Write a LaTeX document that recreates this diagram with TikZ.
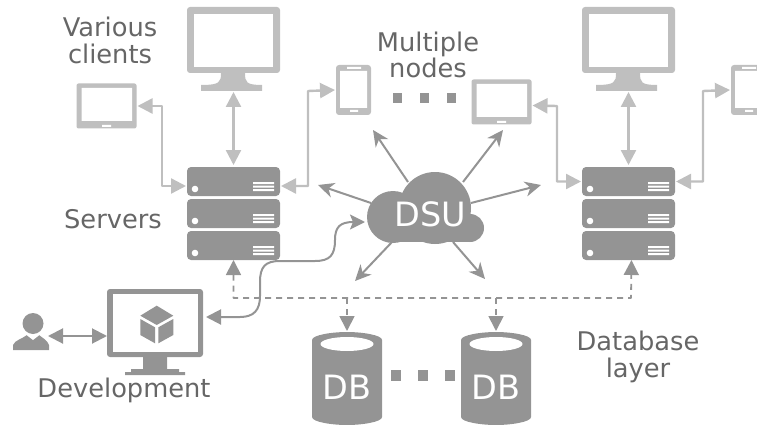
\documentclass[tikz,border=0pt]{standalone}
\usepackage{fontspec}
\setmainfont{DejaVu Sans}
\usetikzlibrary{arrows.meta}
\definecolor{lightgr}{HTML}{BFBFBF}
\definecolor{darkgr}{HTML}{949494}
\definecolor{textgr}{HTML}{666666}
\tikzset{
  box/.style={inner sep=0,outer sep=0,minimum width=#1},
  clientline/.style={draw=lightgr,line width=2.4pt,{Stealth[length=15pt,width=15pt,inset=0pt]}-{Stealth[length=15pt,width=15pt,inset=0pt]}},
  cloudline/.style={draw=darkgr,line width=2pt,-{Stealth[length=16pt,width=15pt,inset=5pt]}},
  devline/.style={draw=darkgr,line width=2pt,{Stealth[length=15pt,width=15pt,inset=0pt]}-{Stealth[length=15pt,width=15pt,inset=3pt]}},
  busline/.style={draw=darkgr,line width=1.8pt,dash pattern=on 6pt off 5pt},
  tiphead/.style={-{Stealth[length=15pt,width=15pt,inset=0pt]}},
  caption/.style={text=textgr,align=center,font=\fontsize{25.7}{26.5}\selectfont},
  inner/.style={text=white,font=\fontsize{33.5}{34}\selectfont}
}
\begin{document}
\begin{tikzpicture}[x=1pt,y=-1pt,line join=round]
\clip (0,0) rectangle (757,425);
% clients and servers
\foreach \i/\dx/\dy in {1/0/0,2/395/-4}{
  \node[box=93,fill=lightgr,rounded corners=3,minimum height=66] (mon\i) at (233.5+\dx,40) {};
  \fill[white] (194+\dx,14) rectangle (273+\dx,67);
  \fill[lightgr] (221+\dx,73) .. controls (221+\dx,82) and (220+\dx,85) .. (201+\dx,85) -- (201+\dx,91) -- (262+\dx,91) -- (262+\dx,85) .. controls (246+\dx,85) and (245+\dx,82) .. (245+\dx,73) -- cycle;
  \node[box=60,fill=lightgr,rounded corners=2,minimum height=45] (tab\i) at (106.5+\dx,106+\dy) {};
  \fill[white] (81.5+\dx,88+\dy) rectangle (132+\dx,121+\dy) (102+\dx,125+\dy) rectangle (111+\dx,127+\dy);
  \node[box=35,fill=lightgr,rounded corners=3,minimum height=50] (tel\i) at (353.5+\dx,90) {};
  \fill[white] (340+\dx,71) rectangle (367+\dx,108) (347+\dx,67) rectangle (361+\dx,69) (350+\dx,110) rectangle (358+\dx,112);
  \foreach \u/\uy in {a/0,b/32,c/64}{
    \node[box=93,fill=darkgr,rounded corners=4,minimum height=29] (srv\i\u) at (233.5+\dx,181.5+\uy) {};
    \fill[white] (195+\dx,189+\uy) circle (3.3);
    \fill[white] (253+\dx,182+\uy) rectangle (274+\dx,184+\uy) (253+\dx,185.5+\uy) rectangle (274+\dx,187.5+\uy) (253+\dx,189+\uy) rectangle (274+\dx,191+\uy);
  }
  \draw[clientline] (mon\i.south |- 0,92) -- (srv\i a.north |- 0,165);
}
\draw[clientline] ([xshift=1pt]tab1.east) -- (162,106) |- ([yshift=-4.5pt,xshift=-1pt]srv1a.west);
\draw[clientline] ([xshift=-1pt]tel1.west) -- (308,91) |- ([yshift=-4.5pt,xshift=1pt]srv1a.east);
\draw[clientline] ([xshift=1pt,yshift=-3.5pt]tab2.east) -- (557,106) |- ([xshift=-1pt]srv2a.west);
\draw[clientline] ([xshift=-1pt]tel2.west) -- (703,91) |- ([xshift=1pt]srv2a.east);
% dots
\foreach \x in {393,420,447} \fill[darkgr] (\x,93) rectangle ++(9,10);
\foreach \x in {391,418,445} \fill[darkgr] (\x,370) rectangle ++(9.5,11);
% cloud
\foreach \n/\sx/\sy/\tx/\ty in {a/371/203/318/185,b/408/182/373/130,c/463/182/503/130,d/471/203/541/185,e/392/242/355/281,f/453/242/485/279}{
  \coordinate (dsu\n) at (\sx,\sy);
  \coordinate (end\n) at (\tx,\ty);
  \draw[cloudline] (dsu\n) -- (end\n);
}
\fill[darkgr] (393,217) circle (26);
\fill[darkgr] (435,208) circle (36);
\fill[darkgr] (470,228) circle (14);
\fill[darkgr] (393,215) rectangle (470,242);
\node[inner] (dsu) at (430,214) {DSU};
% development
\node[box=96,fill=darkgr,rounded corners=3,minimum height=68] (dev) at (155,323) {};
\fill[white] (113,294) rectangle (198,352);
\fill[darkgr] (143,357) rectangle (167,370) (131,369) rectangle (179,372) (125,372) rectangle (185,375);
\fill[darkgr] (156.7,305.7) -- (173.3,315.7) -- (156.7,325) -- (140.3,315.7) -- cycle;
\fill[darkgr] (140.3,319) -- (155,327.3) -- (155,343.3) -- (140.3,335) -- cycle;
\fill[darkgr] (158.3,327.3) -- (173.3,319) -- (173.3,335) -- (158.3,343.3) -- cycle;
\fill[darkgr] (13,350) -- (13,345) .. controls (15,340) and (22,339) .. (27,335) -- (39,335) .. controls (44,339) and (47,340) .. (49,345) -- (49,350) -- cycle;
\fill[white] (24,333) -- (33,340) -- (42,333) -- cycle;
\node[box=21,fill=darkgr,circle] (usr) at (33,323.5) {};
\draw[darkgr,line width=2pt,{Stealth[length=15pt,width=15pt,inset=0pt]}-{Stealth[length=15pt,width=15pt,inset=0pt]}] (48,336) -- (dev.west |- 0,336);
\draw[devline] ([shift={(3,-6)}]dev.east) -- (240,317) .. controls (254,317) and (260,310) .. (260,296) -- (260,282) .. controls (260,267) and (265,261) .. (280,261) -- (315,261) .. controls (330,261) and (335,255) .. (335,240) .. controls (335,227) and (340,222) .. (365,222);
% database layer
\foreach \i/\x in {1/347,2/496}{
  \fill[darkgr] (\x-35,340) .. controls (\x-35,335) and (\x-15,332) .. (\x,332) .. controls (\x+15,332) and (\x+35,335) .. (\x+35,340) -- (\x+35,417) .. controls (\x+35,422) and (\x+15,425) .. (\x,425) .. controls (\x-15,425) and (\x-35,422) .. (\x-35,417) -- cycle;
  \fill[white] (\x,344) ellipse (26.5 and 7);
  \node[box=70,minimum height=110,inner] (db\i) at (\x,387) {DB};
}
\coordinate (bus) at (0,298);
\draw[busline,{Stealth[length=15pt,width=15pt,inset=0pt]}-{Stealth[length=15pt,width=15pt,inset=0pt]}] (srv1c.south) -- (bus -| srv1c.south) -- (631,298) -- ([xshift=3pt]srv2c.south);
\draw[busline,tiphead] (bus -| db1.north) -- ([yshift=1pt]db1.north);
\draw[busline,tiphead] (bus -| db2.north) -- ([yshift=1pt]db2.north);
% labels
\node[caption] (various) at (110,40.5) {Various\\clients};
\node[caption] (multi) at (428,55) {Multiple\\nodes};
\node[caption] (servers) at (113,219) {Servers};
\node[caption] (devel) at (124,390) {Development};
\node[caption] (dblayer) at (638,357) {Database\\layer};
\end{tikzpicture}
\end{document}
